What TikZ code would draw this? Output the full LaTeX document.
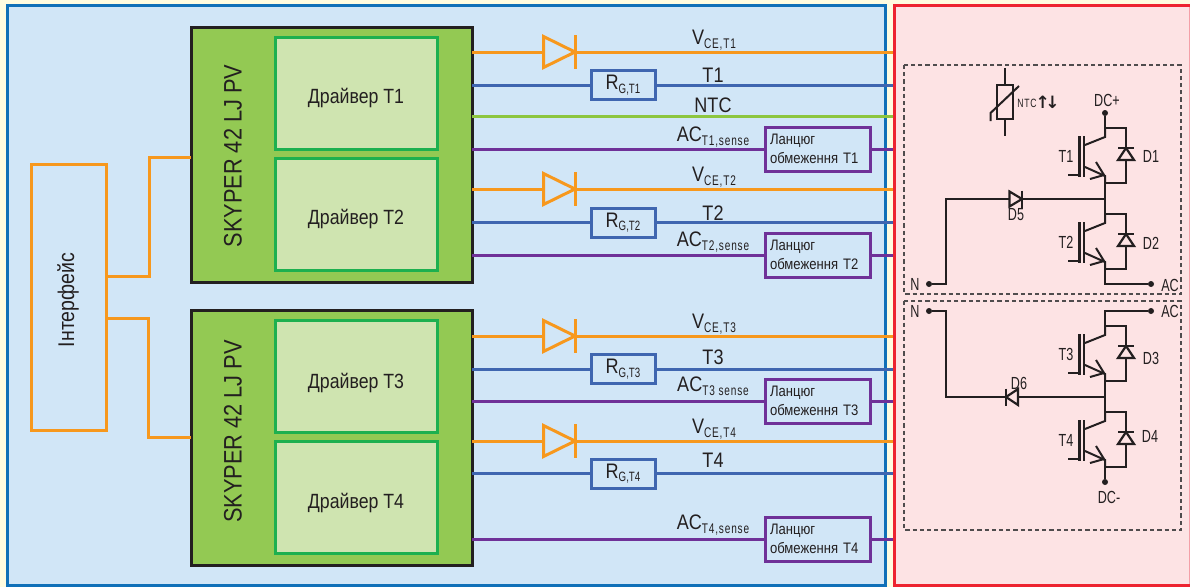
\documentclass[tikz,border=0pt]{standalone}
\usepackage{fontspec}
\usetikzlibrary{calc}
\setmainfont[FakeStretch=0.86]{Liberation Sans}
\newfontfamily\narrowf[FakeStretch=0.72]{Liberation Sans}
\newfontfamily\arrowf{DejaVu Sans}
\definecolor{pageyellow}{HTML}{FFFCE0}
\definecolor{panelblue}{HTML}{D1E6F7}
\definecolor{edgeblue}{HTML}{1070B8}
\definecolor{panelred}{HTML}{FDE3E4}
\definecolor{edgered}{HTML}{ED2430}
\definecolor{edgepink}{HTML}{F4A0A8}
\definecolor{moduleg}{HTML}{93C953}
\definecolor{driverg}{HTML}{CFE4B0}
\definecolor{edgeg}{HTML}{1DB04F}
\definecolor{wireo}{HTML}{F7981D}
\definecolor{wireb}{HTML}{3F66B0}
\definecolor{wirep}{HTML}{6F3198}
\definecolor{wireg}{HTML}{8DC63F}
\definecolor{ink}{HTML}{231F20}
\newcommand{\fs}[1]{\fontsize{#1}{#1}\selectfont}
\newcommand{\sublbl}[2]{{\fs{21}#1}\raisebox{-3.5pt}{\narrowf\fs{14}\addfontfeature{LetterSpace=6}#2}}
\newcommand{\rlbl}[2]{{\fs{21}#1}\raisebox{-3.5pt}{\narrowf\fs{13.5}#2}}
\newcommand{\drvtxt}[2]{\raisebox{-#1pt}[0pt][0pt]{#2}}
\tikzset{
  every node/.style={outer sep=0pt},
  panel/.style={draw=#1,line width=3pt},
  module/.style={draw=ink,line width=3pt,fill=moduleg,anchor=north west,inner sep=0pt,minimum width=281pt,minimum height=255pt},
  driver/.style={draw=edgeg,line width=3pt,fill=driverg,anchor=north west,inner sep=0pt,minimum width=162pt,minimum height=112pt,font=\fs{20.6},text=ink},
  modtext/.style={rotate=90,font=\fs{25.3},text=ink},
  rbox/.style={draw=wireb,line width=3pt,fill=panelblue,minimum width=64pt,minimum height=29pt,inner sep=0pt,text=ink},
  limbox/.style={draw=wirep,line width=3pt,fill=panelblue,minimum width=105pt,minimum height=44pt,inner sep=0pt,text width=95pt,font=\fontsize{15.2}{18.5}\selectfont,text=ink,align=left},
  wire/.style={draw=#1,line width=3pt},
  wlabel/.style={text=ink,inner sep=0pt},
  ckt/.style={draw=ink,line width=2pt,line cap=butt},
  dashbox/.style={draw=ink!80,line width=2.4pt,dash pattern=on 4.2pt off 3pt},
  cktlabel/.style={text=ink,inner sep=0pt,font=\narrowf\fs{17.5}},
  dot/.style={circle,fill=ink,inner sep=0pt,minimum size=6pt},
  igbt/.pic={
    \draw[ckt] (0,0) -- (21,0) -- (21,55) -- (0,55);
    \draw[ckt] (0,-1) -- (0,9) -- (-20,17);
    \draw[ckt] (0,56) -- (0,48) -- (-20,39);
    \draw[ckt,line width=2.2pt] (-25.5,8) -- (-25.5,49);
    \draw[ckt,line width=2.2pt] (-20.7,8) -- (-20.7,49);
    \draw[ckt] (-37,47) -- (-25.5,47);
    \draw[ckt,line join=miter] (-9,34) -- (-1,47) -- (-15,51);
    \draw[ckt,line width=2.2pt] (13,20) -- (29,20);
    \draw[ckt,line width=2.2pt,fill=panelred,line join=miter] (13,32) -- (29,32) -- (21,20) -- cycle;
  }
}
\begin{document}
\begin{tikzpicture}[x=1pt,y=-1pt]
\useasboundingbox (0,0) rectangle (1190,587);
\fill[pageyellow] (0,0) rectangle (1190,587);
\draw[panel=edgeblue,fill=panelblue] (7.5,5.5) rectangle (885.5,585.5);
\fill[panelred] (894,5.5) rectangle (1190,585.5);
\draw[edgepink,line width=1.2pt] (1189.4,5.5) -- (1189.4,585.5);
\draw[panel=edgered] (1190,5.5) -- (894,5.5) -- (894,585.5) -- (1190,585.5);

% interface
\node[draw=wireo,line width=3pt,fill=panelblue,anchor=north west,minimum width=75.5pt,minimum height=266pt,inner sep=0pt] (iface) at (31,164.5) {};
\node[rotate=90,font=\fs{22.7},text=ink] at (68,300) {Інтерфейс};

% modules
\node[module] (modA) at (191,27.5) {};
\node[module] (modB) at (191,310) {};
\node[driver] (drvA) at (275,37.5) {\drvtxt{9.5}{Драйвер T1}};
\node[driver] (drvB) at (275,158) {\drvtxt{10.5}{Драйвер T2}};
\node[driver] (drvC) at (275,320.5) {\drvtxt{11.5}{Драйвер T3}};
\node[driver] (drvD) at (275,441) {\drvtxt{11.5}{Драйвер T4}};
\node[modtext] at (233,156) {SKYPER 42 LJ PV};
\node[modtext] at (233,431.5) {SKYPER 42 LJ PV};

% interface connectors
\coordinate (ifA) at (106,276); \coordinate (ifB) at (106,318);
\coordinate (mA) at (191,157.5); \coordinate (mB) at (191,437);
\draw[wire=wireo] (ifA) -- (149,276) -- (149,157.5) -- (mA);
\draw[wire=wireo] (ifB) -- (148,318) -- (148,437) -- (mB);

% wire ends
\foreach \n/\y in {a/52,b/85,c/116,d/149,e/189,f/222,g/255,h/336,i/369,j/401,k/441,l/473,m/539}{
  \coordinate (L\n) at (472,\y);
  \coordinate (E\n) at (892.5,\y);
}
\draw[wire=wireg] (Lc) -- (Ec);
\foreach \n in {a,e,h,k}{
  \draw[wire=wireo] (L\n) -- (E\n);
  \draw[wire=wireo,fill=panelblue,line join=miter] ($(L\n)+(71.5,-15.5)$) -- ($(L\n)+(103,0)$) -- ($(L\n)+(71.5,15.5)$) -- cycle;
  \draw[wire=wireo] ($(L\n)+(103,-17)$) -- ($(L\n)+(103,17)$);
}
\foreach \n in {b,f,i,l}{ \draw[wire=wireb] (L\n) -- (E\n); }
\foreach \n in {d,g,j,m}{ \draw[wire=wirep] (L\n) -- (E\n); }
\node[rbox] (rA) at (623,85) {\rlbl{R}{G,T1}};
\node[rbox] (rB) at (623,222.5) {\rlbl{R}{G,T2}};
\node[rbox] (rC) at (623,369) {\rlbl{R}{G,T3}};
\node[rbox] (rD) at (623,473.5) {\rlbl{R}{G,T4}};
\node[limbox] (limA) at (817.5,149) {Ланцюг\\обмеження T1};
\node[limbox] (limB) at (817.5,255) {Ланцюг\\обмеження T2};
\node[limbox] (limC) at (817.5,401) {Ланцюг\\обмеження T3};
\node[limbox] (limD) at (817.5,539) {Ланцюг\\обмеження T4};

% wire labels
\node[wlabel] at (714,40) {\sublbl{V}{CE,T1}};
\node[wlabel,font=\fs{21}] at (713,75) {T1};
\node[wlabel,font=\fs{21}] at (713,105) {NTC};
\node[wlabel] at (713,137) {\sublbl{AC}{T1,sense}};
\node[wlabel] at (714,177) {\sublbl{V}{CE,T2}};
\node[wlabel,font=\fs{21}] at (713,213) {T2};
\node[wlabel] at (713,242) {\sublbl{AC}{T2,sense}};
\node[wlabel] at (714,324) {\sublbl{V}{CE,T3}};
\node[wlabel,font=\fs{21}] at (713,357) {T3};
\node[wlabel] at (713,386) {\sublbl{AC}{T3 sense}};
\node[wlabel] at (714,429) {\sublbl{V}{CE,T4}};
\node[wlabel,font=\fs{21}] at (713,460) {T4};
\node[wlabel] at (713,525) {\sublbl{AC}{T4,sense}};

% right panel
\draw[dashbox] (904,65) rectangle (1181,294);
\draw[dashbox] (904,301) rectangle (1181,530);

% NTC
\draw[ckt] (1005,68) -- (1005,136);
\draw[ckt,fill=panelred] (997,85) rectangle (1013,119);
\draw[ckt] (990.5,121) -- (990.5,113) -- (1019,86);
\node[cktlabel,font=\narrowf\fs{12}\addfontfeature{LetterSpace=6}] at (1027,103) {NTC};
\node[cktlabel] at (1047.5,102) {\arrowf\bfseries\fs{17}↑\kern-4.5pt↓};

% IGBT stacks
\pic at (1105,128) {igbt};
\pic at (1105,214) {igbt};
\pic at (1105,326) {igbt};
\pic at (1105,412) {igbt};

% terminals
\node[dot] (dcp) at (1105,113) {};
\node[dot] (acA) at (1151,284) {};
\node[dot] (nA) at (929,284) {};
\node[dot] (nB) at (929,311) {};
\node[dot] (acB) at (1151,311) {};
\node[dot] (dcm) at (1105,482) {};
\coordinate (jA) at (1105,199);
\coordinate (jB) at (1105,397);
\draw[ckt] (dcp) -- (1105,128);
\draw[ckt] (1105,183) -- (1105,214);
\draw[ckt] (1105,269) -- (1105,284) -- (acA);
\draw[ckt] (acB) -- (1105,311) -- (1105,326);
\draw[ckt] (1105,381) -- (1105,412);
\draw[ckt] (1105,467) -- (dcm);
\draw[ckt] (nA) -- (946,284) -- (946,199) -- (jA);
\draw[ckt] (nB) -- (946,311) -- (946,397) -- (jB);

% D5, D6
\draw[ckt,line width=2.2pt,fill=panelred,line join=miter] (1009.5,191.5) -- (1022,199) -- (1009.5,206.5) -- cycle;
\draw[ckt,line width=2.2pt] (1022,190.5) -- (1022,207.5);
\draw[ckt,line width=2.2pt,fill=panelred,line join=miter] (1018,389) -- (1006,397) -- (1018,405) -- cycle;
\draw[ckt,line width=2.2pt] (1006,388.5) -- (1006,405.5);

% circuit labels
\node[cktlabel] at (1107,100) {DC+};
\node[cktlabel] at (1066,156) {T1};
\node[cktlabel] at (1151,156) {D1};
\node[cktlabel] at (1016,215) {D5};
\node[cktlabel] at (1066,242) {T2};
\node[cktlabel] at (1151,243) {D2};
\node[cktlabel] at (915,284) {N};
\node[cktlabel] at (1170,285) {AC};
\node[cktlabel] at (915,311) {N};
\node[cktlabel] at (1170,311) {AC};
\node[cktlabel] at (1066,354) {T3};
\node[cktlabel] at (1151,358) {D3};
\node[cktlabel] at (1019,383) {D6};
\node[cktlabel] at (1066,440) {T4};
\node[cktlabel] at (1150,436) {D4};
\node[cktlabel] at (1109,497) {DC-};
\end{tikzpicture}
\end{document}
